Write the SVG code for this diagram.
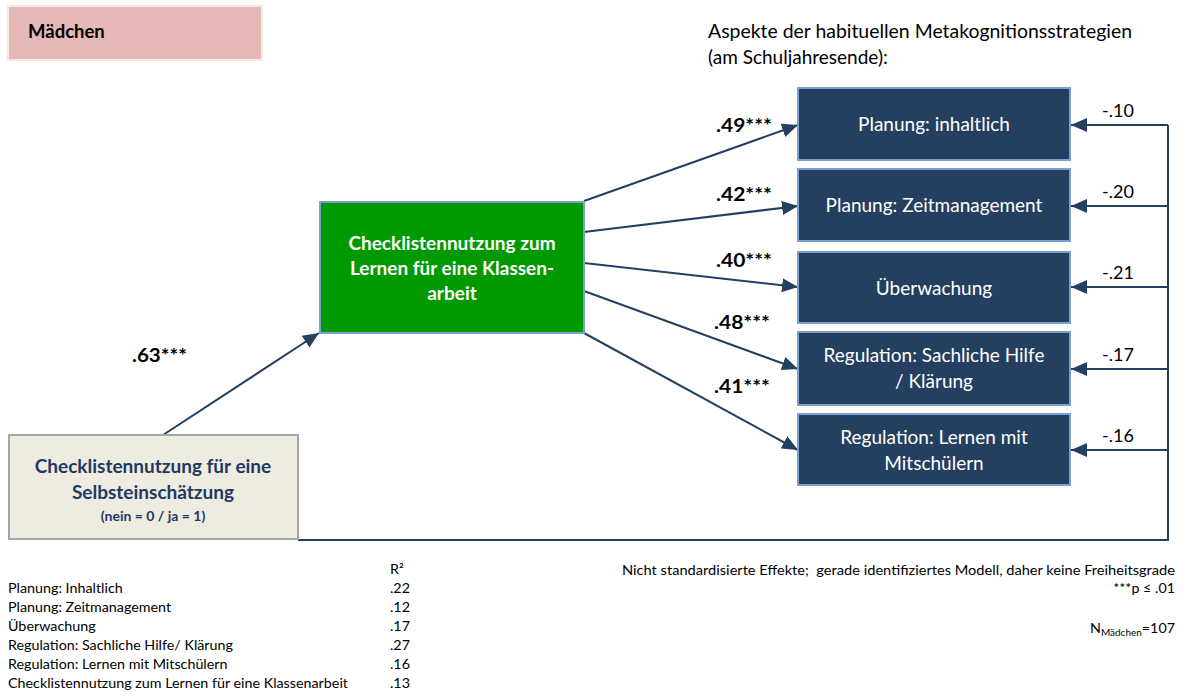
<svg xmlns="http://www.w3.org/2000/svg" width="1184" height="692" viewBox="0 0 1184 692">
<defs>
<style>
text{font-family:Lato,"Open Sans","Liberation Sans",sans-serif;}
.b{font-weight:bold;}
.blue{fill:#243f60;stroke:#7ba0cd;stroke-width:2;}
.bt{fill:#ffffff;font-size:19px;text-anchor:middle;}
.con{stroke:#243f60;stroke-width:2;fill:none;}
.lab{font-size:18.5px;font-weight:bold;fill:#000;}
.fb{font-size:18px;fill:#000;}
.small{font-size:14.3px;fill:#000;}
</style>
<marker id="ah" markerUnits="userSpaceOnUse" markerWidth="17" markerHeight="14" refX="16" refY="7" orient="auto">
<path d="M0,0 L16,7 L0,14 z" fill="#243f60"/>
</marker>
</defs>
<rect width="1184" height="692" fill="#ffffff"/>

<g id="title">
<rect x="8" y="6" width="254" height="54" fill="#e6b8b7" stroke="#eeece1" stroke-width="2"/>
<text x="28" y="38" class="b" font-size="18.5" fill="#000">Mädchen</text>
</g>

<g id="header">
<text x="708" y="38" font-size="19" fill="#000" textLength="424" lengthAdjust="spacingAndGlyphs">Aspekte der habituellen Metakognitionsstrategien</text>
<text x="708" y="64" font-size="19" fill="#000">(am Schuljahresende):</text>
</g>

<g id="connectors">
<line class="con" x1="163" y1="435" x2="319" y2="333" marker-end="url(#ah)"/>
<line class="con" x1="584" y1="201" x2="798" y2="125" marker-end="url(#ah)"/>
<line class="con" x1="584" y1="232" x2="798" y2="206" marker-end="url(#ah)"/>
<line class="con" x1="584" y1="263" x2="798" y2="287" marker-end="url(#ah)"/>
<line class="con" x1="584" y1="291" x2="798" y2="369" marker-end="url(#ah)"/>
<line class="con" x1="584" y1="333" x2="798" y2="450" marker-end="url(#ah)"/>
<polyline class="con" points="298,540 1168,540 1168,125"/>
<line class="con" x1="1168" y1="125" x2="1071" y2="125" marker-end="url(#ah)"/>
<line class="con" x1="1168" y1="206" x2="1071" y2="206" marker-end="url(#ah)"/>
<line class="con" x1="1168" y1="287" x2="1071" y2="287" marker-end="url(#ah)"/>
<line class="con" x1="1168" y1="369" x2="1071" y2="369" marker-end="url(#ah)"/>
<line class="con" x1="1168" y1="450" x2="1071" y2="450" marker-end="url(#ah)"/>
<text x="132" y="362" class="lab" textLength="55" lengthAdjust="spacingAndGlyphs">.63***</text>
<text x="716" y="132" class="lab" textLength="56" lengthAdjust="spacingAndGlyphs">.49***</text>
<text x="716" y="201" class="lab" textLength="56" lengthAdjust="spacingAndGlyphs">.42***</text>
<text x="716" y="267" class="lab" textLength="56" lengthAdjust="spacingAndGlyphs">.40***</text>
<text x="714" y="329" class="lab" textLength="56" lengthAdjust="spacingAndGlyphs">.48***</text>
<text x="714" y="393" class="lab" textLength="56" lengthAdjust="spacingAndGlyphs">.41***</text>
<text x="1102" y="117" class="fb">-.10</text>
<text x="1102" y="198" class="fb">-.20</text>
<text x="1102" y="279" class="fb">-.21</text>
<text x="1102" y="361" class="fb">-.17</text>
<text x="1102" y="442" class="fb">-.16</text>
</g>

<g id="selbst">
<rect x="9" y="435" width="289" height="104" fill="#eeece1" stroke="#a6a6a6" stroke-width="2"/>
<text x="153" y="473" text-anchor="middle" class="b" font-size="19" fill="#1f3864">Checklistennutzung für eine</text>
<text x="153" y="499" text-anchor="middle" class="b" font-size="19" fill="#1f3864">Selbsteinschätzung</text>
<text x="153" y="521" text-anchor="middle" class="b" font-size="14" fill="#1f3864">(nein = 0 / ja = 1)</text>
</g>

<g id="klassenarbeit">
<rect x="320" y="202" width="264" height="131" fill="#009900" stroke="#7ba0cd" stroke-width="2"/>
<text x="452" y="250" text-anchor="middle" class="b" font-size="19" fill="#ffffff">Checklistennutzung zum</text>
<text x="452" y="275" text-anchor="middle" class="b" font-size="19" fill="#ffffff">Lernen für eine Klassen-</text>
<text x="452" y="300" text-anchor="middle" class="b" font-size="19" fill="#ffffff">arbeit</text>
</g>

<g id="planung_inhaltlich">
<rect class="blue" x="798" y="88" width="272" height="72"/>
<text class="bt" x="934" y="131">Planung: inhaltlich</text>
</g>
<g id="planung_zeit">
<rect class="blue" x="798" y="169" width="272" height="72"/>
<text class="bt" x="934" y="212">Planung: Zeitmanagement</text>
</g>
<g id="ueberwachung">
<rect class="blue" x="798" y="252" width="272" height="71"/>
<text class="bt" x="934" y="295">Überwachung</text>
</g>
<g id="regulation_hilfe">
<rect class="blue" x="798" y="332" width="272" height="73"/>
<text class="bt" x="934" y="362">Regulation: Sachliche Hilfe</text>
<text class="bt" x="934" y="388">/ Klärung</text>
</g>
<g id="regulation_lernen">
<rect class="blue" x="798" y="414" width="272" height="71"/>
<text class="bt" x="934" y="444">Regulation: Lernen mit</text>
<text class="bt" x="934" y="470">Mitschülern</text>
</g>

<g id="r2table">
<text x="390" y="574" class="small">R²</text>
<text x="8" y="593" class="small">Planung: Inhaltlich</text><text x="390" y="593" class="small">.22</text>
<text x="8" y="612" class="small">Planung: Zeitmanagement</text><text x="390" y="612" class="small">.12</text>
<text x="8" y="631" class="small">Überwachung</text><text x="390" y="631" class="small">.17</text>
<text x="8" y="650" class="small">Regulation: Sachliche Hilfe/ Klärung</text><text x="390" y="650" class="small">.27</text>
<text x="8" y="669" class="small">Regulation: Lernen mit Mitschülern</text><text x="390" y="669" class="small">.16</text>
<text x="8" y="688" class="small">Checklistennutzung zum Lernen für eine Klassenarbeit</text><text x="390" y="688" class="small">.13</text>
</g>

<g id="notes">
<text x="622" y="575" class="small" xml:space="preserve" textLength="553" lengthAdjust="spacingAndGlyphs">Nicht standardisierte Effekte;  gerade identifiziertes Modell, daher keine Freiheitsgrade</text>
<text x="1175" y="593" text-anchor="end" class="small">***p ≤ .01</text>
<text x="1175" y="633" text-anchor="end" class="small">N<tspan font-size="10" dy="3">Mädchen</tspan><tspan dy="-3">=107</tspan></text>
</g>
</svg>
